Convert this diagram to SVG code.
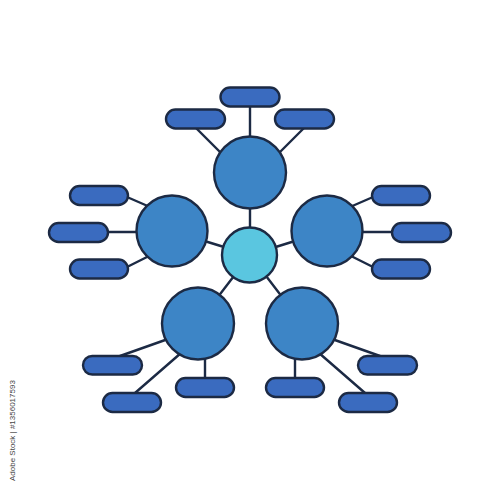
<svg xmlns="http://www.w3.org/2000/svg" width="500" height="500" viewBox="0 0 500 500">
<style>
.ln{stroke:#1c2a44;stroke-width:2.4;fill:none;stroke-linecap:round}
.hub{fill:#5ac6e0;stroke:#1c2a44;stroke-width:2.4}
.big{fill:#3d85c6;stroke:#1c2a44;stroke-width:2.4}
.pill{fill:#3a6bbf;stroke:#1c2a44;stroke-width:2.4}
.wm{font-family:"Liberation Sans",Arial,sans-serif;font-size:8px;fill:#444}
</style>
<rect width="500" height="500" fill="#fff"/>
<g id="connectors">
<line class="ln" x1="250" y1="255" x2="250" y2="172"/>
<line class="ln" x1="250" y1="255" x2="172" y2="231"/>
<line class="ln" x1="250" y1="255" x2="327" y2="231"/>
<line class="ln" x1="250" y1="255" x2="198" y2="323"/>
<line class="ln" x1="250" y1="255" x2="302" y2="323"/>
<line class="ln" x1="250" y1="106" x2="250" y2="150"/>
<line class="ln" x1="196" y1="128" x2="222" y2="154"/>
<line class="ln" x1="304" y1="128" x2="278" y2="154"/>
<line class="ln" x1="127" y1="197" x2="150" y2="207"/>
<line class="ln" x1="107" y1="232" x2="145" y2="232"/>
<line class="ln" x1="127" y1="267" x2="149" y2="256"/>
<line class="ln" x1="373" y1="197" x2="350" y2="207"/>
<line class="ln" x1="393" y1="232" x2="355" y2="232"/>
<line class="ln" x1="373" y1="267" x2="351" y2="256"/>
<line class="ln" x1="120" y1="356" x2="168" y2="339"/>
<line class="ln" x1="135" y1="393" x2="181" y2="353"/>
<line class="ln" x1="205" y1="378" x2="205" y2="350"/>
<line class="ln" x1="380" y1="356" x2="332" y2="339"/>
<line class="ln" x1="365" y1="393" x2="319" y2="353"/>
<line class="ln" x1="295" y1="378" x2="295" y2="350"/>
</g>
<g id="hub"><circle class="hub" cx="249.5" cy="255" r="27.5"/></g>
<g id="node-top"><circle class="big" cx="250" cy="172.5" r="36"/></g>
<g id="node-left"><circle class="big" cx="172" cy="231" r="35.5"/></g>
<g id="node-right"><circle class="big" cx="327" cy="231" r="35.5"/></g>
<g id="node-bottom-left"><circle class="big" cx="198" cy="323.5" r="36"/></g>
<g id="node-bottom-right"><circle class="big" cx="302" cy="323.5" r="36"/></g>
<g id="pill-top-1"><rect class="pill" x="220.5" y="87.5" width="59" height="19" rx="9.5"/></g>
<g id="pill-top-2"><rect class="pill" x="166" y="109.5" width="59" height="19" rx="9.5"/></g>
<g id="pill-top-3"><rect class="pill" x="275" y="109.5" width="59" height="19" rx="9.5"/></g>
<g id="pill-left-1"><rect class="pill" x="70" y="186" width="58" height="19" rx="9.5"/></g>
<g id="pill-left-2"><rect class="pill" x="49" y="223" width="59" height="19" rx="9.5"/></g>
<g id="pill-left-3"><rect class="pill" x="70" y="259.5" width="58" height="19" rx="9.5"/></g>
<g id="pill-right-1"><rect class="pill" x="372" y="186" width="58" height="19" rx="9.5"/></g>
<g id="pill-right-2"><rect class="pill" x="392" y="223" width="59" height="19" rx="9.5"/></g>
<g id="pill-right-3"><rect class="pill" x="372" y="259.5" width="58" height="19" rx="9.5"/></g>
<g id="pill-bl-1"><rect class="pill" x="83" y="356" width="59" height="18.5" rx="9.25"/></g>
<g id="pill-bl-2"><rect class="pill" x="103" y="393" width="58" height="19" rx="9.5"/></g>
<g id="pill-bl-3"><rect class="pill" x="176" y="378" width="58" height="19" rx="9.5"/></g>
<g id="pill-br-1"><rect class="pill" x="358" y="356" width="59" height="18.5" rx="9.25"/></g>
<g id="pill-br-2"><rect class="pill" x="339" y="393" width="58" height="19" rx="9.5"/></g>
<g id="pill-br-3"><rect class="pill" x="266" y="378" width="58" height="19" rx="9.5"/></g>
<text class="wm" transform="translate(15,481) rotate(-90)">Adobe Stock | #1356017593</text>
</svg>
